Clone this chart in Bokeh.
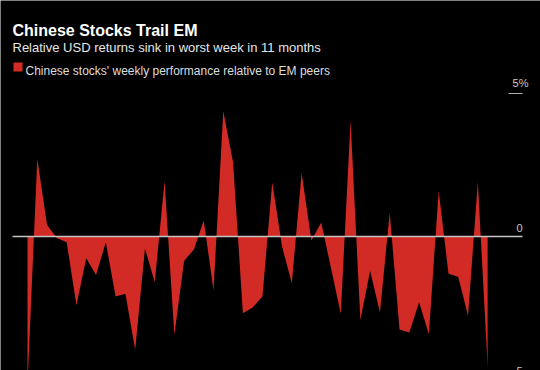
from bokeh.plotting import figure
from bokeh.models import Range1d, Label, BoxAnnotation
from bokeh.embed import file_html
from bokeh.resources import INLINE

# ---- data ----
weeks = list(range(48))
rel_perf = [-5.2, 2.71, 0.4, -0.05, -0.2, -2.4, -0.76, -1.35, -0.2, -2.1,
            -2.0, -3.96, -0.42, -1.6, 1.94, -3.44, -0.85, -0.45, 0.56, -1.88,
            4.38, 2.6, -2.68, -2.48, -2.1, 1.9, -0.35, -1.63, 2.22, -0.14,
            0.49, -1.1, -2.7, 4.06, -2.92, -1.2, -2.66, 0.83, -3.25, -3.36,
            -2.3, -3.42, 1.6, -1.29, -1.42, -2.77, 1.91, -4.55]
y_ticks = [-5, 0, 5]
y_tick_labels = ["-5", "0", "5%"]
title = "Chinese Stocks Trail EM"
subtitle = "Relative USD returns sink in worst week in 11 months"
legend_label = "Chinese stocks' weekly performance relative to EM peers"

RED = "#d22a25"
W, H = 540, 370
OFF = 0  # canvas origin on the photographed page
X0, X1 = -2.758, 52.40
Y0, Y1 = -4.685, 8.252

p = figure(width=W, height=H, output_backend="svg", toolbar_location=None,
           x_range=Range1d(X0, X1), y_range=Range1d(Y0, Y1),
           min_border=0, background_fill_color="black",
           border_fill_color="black", outline_line_color=None)
p.axis.visible = False
p.grid.visible = False


def px_x(page_x):
    return X0 + (page_x - OFF) * (X1 - X0) / W


def px_y(page_y):
    return Y1 - (page_y - OFF) * (Y1 - Y0) / H


FONT = "Liberation Sans"

# area
p.varea(x=weeks, y1=[0] * len(weeks), y2=rel_perf, fill_color=RED)

# zero line and tick marks
p.segment(x0=[px_x(12)], x1=[px_x(522)], y0=[0], y1=[0],
          line_color="#c4c4c4", line_width=1.3)
p.segment(x0=[px_x(508)] * 2, x1=[px_x(522)] * 2, y0=[y_ticks[0], y_ticks[2]],
          y1=[y_ticks[0], y_ticks[2]], line_color="#b0b0b0", line_width=1.2)

# tick labels (above their lines, right side)
for v, lab in zip(y_ticks, y_tick_labels):
    right = 528 if lab.endswith("%") else 522
    p.add_layout(Label(x=px_x(right), y=v, text=lab, text_align="right",
                       text_baseline="bottom", y_offset=5,
                       text_font=FONT, text_font_size="11px",
                       text_color="#c8c8c8"))

# title, subtitle
p.add_layout(Label(x=px_x(12), y=px_y(30), text=title, text_font=FONT,
                   text_font_size="16px", text_font_style="bold",
                   text_color="white", text_baseline="alphabetic"))
p.add_layout(Label(x=px_x(12), y=px_y(47), text=subtitle, text_font=FONT,
                   text_font_size="13px", text_color="#e6e6e6",
                   text_baseline="alphabetic"))

# legend
p.add_layout(BoxAnnotation(left=px_x(13), right=px_x(22), top=px_y(62),
                           bottom=px_y(71), fill_color=RED, fill_alpha=1,
                           line_alpha=0))
p.add_layout(Label(x=px_x(25), y=px_y(70.5), text=legend_label, text_font=FONT,
                   text_font_size="12px", text_color="#dddddd",
                   text_baseline="alphabetic"))

open("out.html", "w").write(file_html(p, INLINE))
